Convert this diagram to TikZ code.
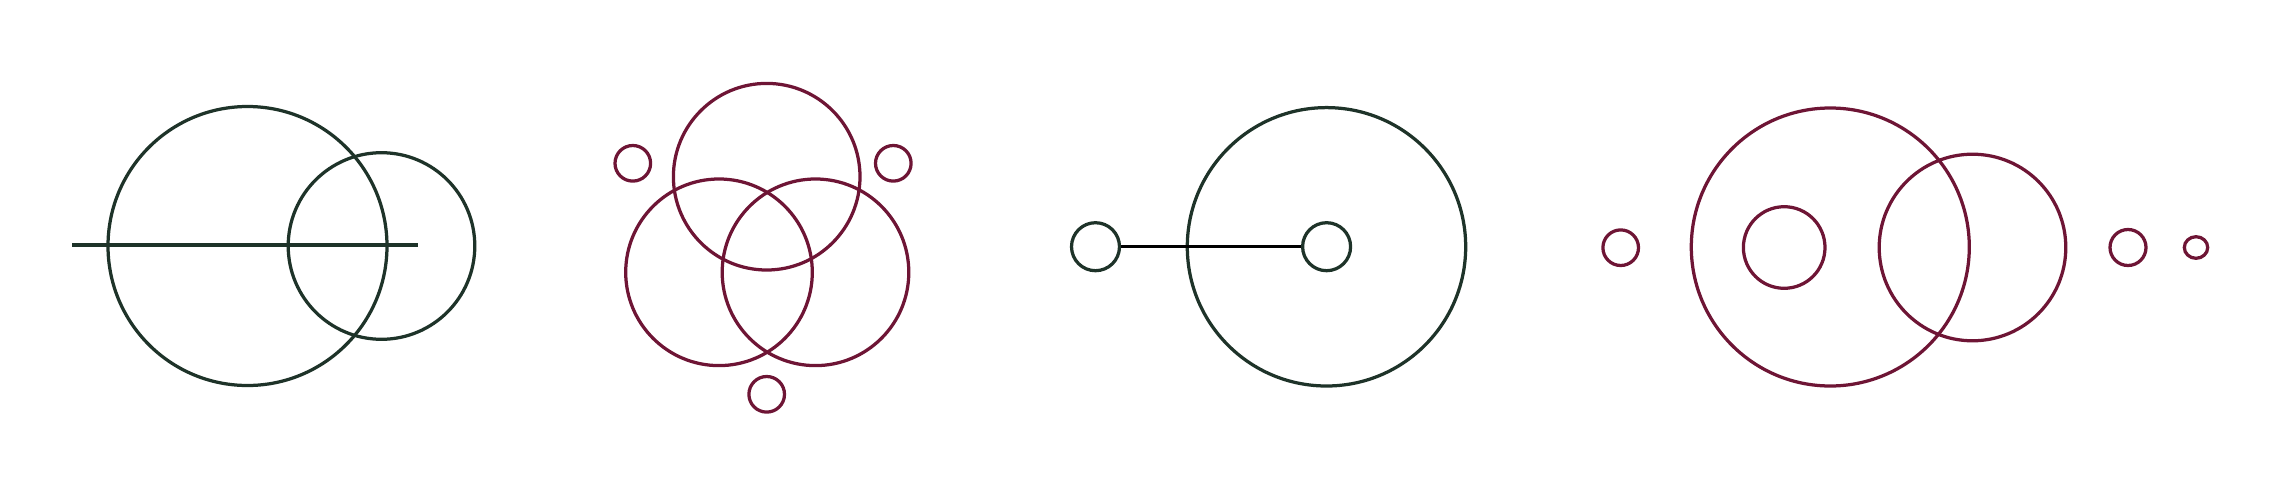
\documentclass[tikz,border=0pt]{standalone}
\usepackage{tikz}
\definecolor{pine}{HTML}{1E3329}
\definecolor{wine}{HTML}{6E1535}
\tikzset{ring/.style={circle, draw=pine, line width=0.65mm, inner sep=0pt, minimum size=#1}}

\begin{document}
\begin{tikzpicture}[x=0.02cm, y=-0.02cm]
			%%%%% START %%%%%
			
			\useasboundingbox (0, 0) rectangle (2280, 494);
			
			\draw[line width=0.65mm, color=pine] (247.5, 246) circle (139.5);
			\draw[line width=0.65mm, color=pine] (381.5, 246) circle (93.3);
			\coordinate (barL) at (72, 245);
			\coordinate (barR) at (418, 245);
			\draw[line width=0.65mm, color=pine] (barL) -- (barR);
			
			\draw[line width=0.65mm, color=wine] (766.7, 176.7) circle (93.3);
			\draw[line width=0.65mm, color=wine] (719, 272.3) circle (93.3);
			\draw[line width=0.65mm, color=wine] (815.5, 272.3) circle (93.3);
			\draw[line width=0.65mm, color=wine] (632.8, 163.3) circle (17.8);
			\draw[line width=0.65mm, color=wine] (893.3, 163.3) circle (17.8);
			\draw[line width=0.65mm, color=wine] (766.7, 394.3) circle (17.8);
			
			\draw[line width=0.65mm, color=pine] (1326.5, 246.8) circle (139.2);
			\node[ring=0.96cm] (hubL) at (1095.5, 246.7) {};
			\node[ring=0.96cm] (hubC) at (1326.6, 246.7) {};
			\draw[line width=0.65mm, color=black] (hubL) -- (hubC);
			
			\draw[line width=0.65mm, color=wine] (1620.7, 247.7) circle (17.8);
			\draw[line width=0.65mm, color=wine] (1830.3, 247) circle (139);
			\draw[line width=0.65mm, color=wine] (1784.2, 247.5) circle (40.8);
			\draw[line width=0.65mm, color=wine] (1972.5, 247.5) circle (93.3);
			\draw[line width=0.65mm, color=wine] (2128, 247.5) circle (18);
			\draw[line width=0.65mm, color=wine] (2196, 247.5) ellipse (11.7 and 10.8);
			
			%%%%% END %%%%%
\end{tikzpicture}
\end{document}
